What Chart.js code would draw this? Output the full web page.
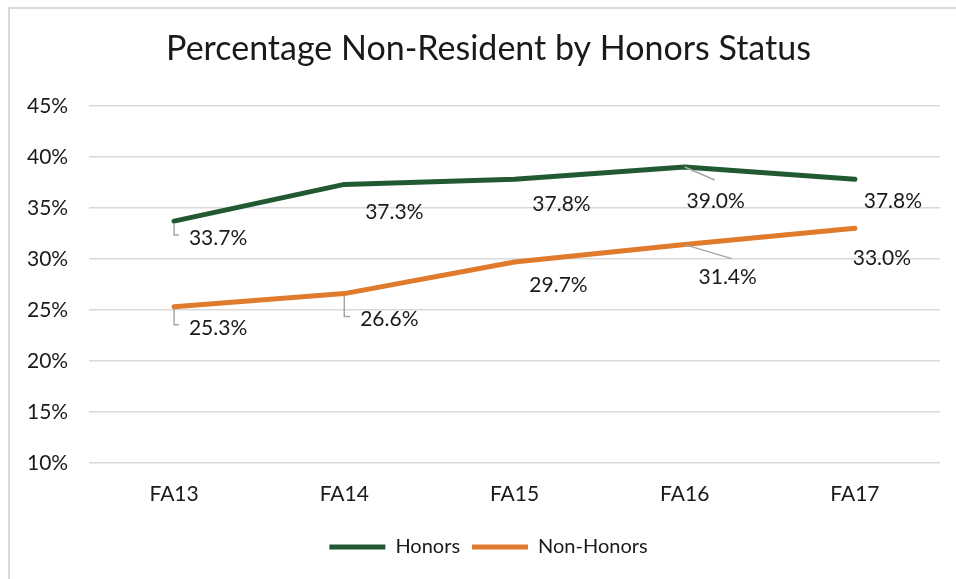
<!DOCTYPE html>
<html>
<head>
<meta charset="utf-8">
<script src="https://cdn.jsdelivr.net/npm/chart.js@4/dist/chart.umd.min.js"></script>
<style>
  html, body { margin: 0; padding: 0; background: #fff; }
  #frame {
    position: absolute; left: 8px; top: 7px; width: 960px; height: 580px;
    border-left: 2px solid #d9d9d9; border-top: 2px solid #d9d9d9;
  }
  #wrap { position: absolute; left: 0; top: 0; width: 956px; height: 579px; }
</style>
</head>
<body>
<div id="frame"></div>
<div id="wrap"><canvas id="chart" width="956" height="579"></canvas></div>
<script>
// Data
const years = ["FA13", "FA14", "FA15", "FA16", "FA17"];
const honors = [33.7, 37.3, 37.8, 39.0, 37.8];
const nonHonors = [25.3, 26.6, 29.7, 31.4, 33.0];
const yTicks = [10, 15, 20, 25, 30, 35, 40, 45];

const green = "#215a32";
const orange = "#e07a2d";
const font = "Lato, 'Open Sans', sans-serif";

// label placement (offset of text centre from the point) + leader style
const labelPos = [
  [[44, 17, "elbow"], [50, 28, null], [47, 25, null], [31, 34, [30, 13]], [38, 22, null]],
  [[44, 21, "elbow"], [45, 26, "elbow"], [44, 23, null], [43, 33, [47, 14]], [27, 30, null]]
];

const pointLabels = {
  id: "pointLabels",
  afterDatasetsDraw(chart) {
    const ctx = chart.ctx;
    ctx.save();
    ctx.font = "21px " + font;
    ctx.textAlign = "center";
    ctx.textBaseline = "middle";
    chart.data.datasets.forEach((ds, i) => {
      const meta = chart.getDatasetMeta(i);
      meta.data.forEach((pt, j) => {
        const [dx, dy, leader] = labelPos[i][j];
        const text = ds.data[j].toFixed(1) + "%";
        const tx = pt.x + dx, ty = pt.y + dy;
        ctx.strokeStyle = "#a6a6a6";
        ctx.lineWidth = 1.5;
        if (leader === "elbow") {
          const w = ctx.measureText(text).width;
          ctx.beginPath();
          ctx.moveTo(pt.x, pt.y + 2);
          ctx.lineTo(pt.x, ty - 3);
          ctx.lineTo(tx - w / 2 - 10, ty - 3);
          ctx.stroke();
        } else if (leader) {
          ctx.beginPath();
          ctx.moveTo(pt.x, pt.y);
          ctx.lineTo(pt.x + leader[0], pt.y + leader[1]);
          ctx.stroke();
        }
        ctx.fillStyle = "#1a1a1a";
        ctx.fillText(text, tx, ty);
      });
    });
    ctx.restore();
  }
};

new Chart(document.getElementById("chart"), {
  type: "line",
  data: {
    labels: years,
    datasets: [
      { label: "Honors", data: honors, borderColor: green, backgroundColor: green,
        borderWidth: 5, borderCapStyle: "round", borderJoinStyle: "round", pointRadius: 0, tension: 0 },
      { label: "Non-Honors", data: nonHonors, borderColor: orange, backgroundColor: orange,
        borderWidth: 5, borderCapStyle: "round", borderJoinStyle: "round", pointRadius: 0, tension: 0 }
    ]
  },
  options: {
    responsive: false,
    animation: false,
    layout: { padding: { left: 37, right: 16, top: 0, bottom: 12 } },
    plugins: {
      title: {
        display: true,
        text: "Percentage Non-Resident by Honors Status",
        color: "#1a1a1a",
        font: { family: font, size: 34, weight: "normal", lineHeight: 1.2 },
        padding: { top: 29, bottom: 36 }
      },
      legend: {
        position: "bottom",
        labels: {
          color: "#1a1a1a",
          font: { family: font, size: 20 },
          usePointStyle: true,
          pointStyle: "line",
          pointStyleWidth: 56,
          padding: 12
        }
      },
      tooltip: { enabled: false }
    },
    scales: {
      x: {
        offset: true,
        grid: { display: false },
        border: { display: false },
        ticks: { color: "#1a1a1a", font: { family: font, size: 21 }, padding: 11 },
        afterFit(s) { s.height = 62; }
      },
      y: {
        min: 10,
        max: 45,
        afterBuildTicks(s) { s.ticks = yTicks.map(v => ({ value: v })); },
        grid: { color: "#d9d9d9", lineWidth: 1.5, drawTicks: false },
        border: { display: false },
        // mirror so the labels are not clipped to the narrow axis box
        ticks: { color: "#1a1a1a", font: { family: font, size: 21 }, mirror: true, padding: -62,
          callback: v => v + "%" },
        afterFit(s) { s.width = 52; }
      }
    }
  },
  plugins: [pointLabels]
});
</script>
</body>
</html>
